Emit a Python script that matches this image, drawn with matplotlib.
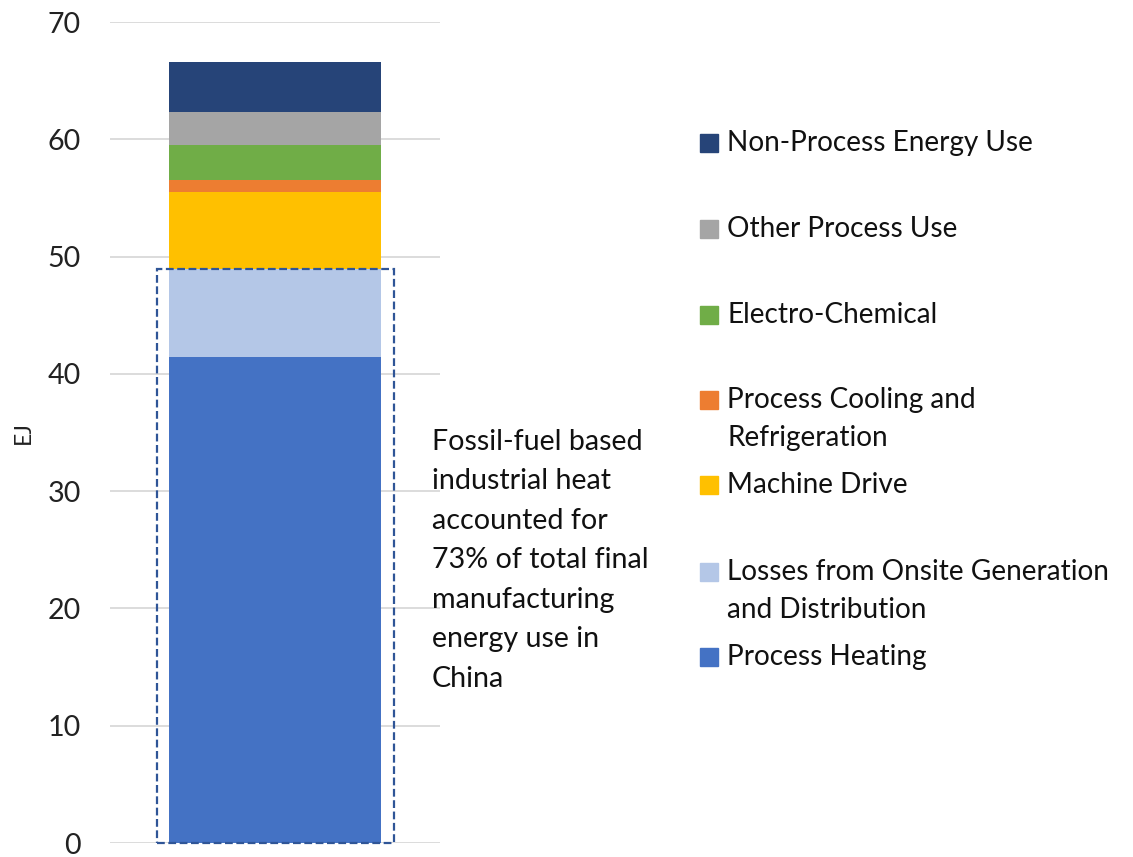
import matplotlib.pyplot as plt
from matplotlib.patches import Rectangle

plt.rcParams['font.family'] = ['Lato', 'DejaVu Sans']

# stacked segments, bottom to top (EJ)
categories = ['Process Heating', 'Losses from Onsite Generation\nand Distribution',
              'Machine Drive', 'Process Cooling and\nRefrigeration',
              'Electro-Chemical', 'Other Process Use', 'Non-Process Energy Use']
values = [41.4, 7.5, 6.6, 1.0, 3.0, 2.8, 4.3]
colors = ['#4472C4', '#B4C7E7', '#FFC000', '#ED7D31', '#70AD47', '#A5A5A5', '#264478']
yticks = [0, 10, 20, 30, 40, 50, 60, 70]
note = ('Fossil-fuel based\nindustrial heat\naccounted for\n73% of total final\n'
        'manufacturing\nenergy use in\nChina')

W, H = 1133, 857
FS = 20.6
fig = plt.figure(figsize=(W / 100, H / 100), dpi=100)
ax = fig.add_axes([110 / W, 14 / H, 330 / W, 821 / H])

bottom = 0
for v, c in zip(values, colors):
    ax.bar(0, v, width=0.64, bottom=bottom, color=c, zorder=2)
    bottom += v

# dashed box around the heat share (process heating + losses)
heat = values[0] + values[1]
ax.add_patch(Rectangle((-0.358, 0), 0.718, heat, fill=False, edgecolor='#2F5597',
                       linewidth=1.6, linestyle=(0, (3.5, 1.6)), zorder=3, clip_on=False))

ax.set_xlim(-0.5, 0.5)
ax.set_ylim(0, 70)
ax.set_yticks(yticks)
ax.set_xticks([])
ax.yaxis.grid(True, color='#D9D9D9', linewidth=1.3, zorder=0)
ax.set_axisbelow(True)
for s in ax.spines.values():
    s.set_visible(False)
ax.tick_params(axis='y', length=0, labelsize=FS, pad=21, labelcolor='#222222')
ax.set_ylabel('EJ', fontsize=16.5, color='#222222')
ax.yaxis.set_label_coords(-0.23, 0.5)

fig.text(432 / W, 1 - 429 / H, note, fontsize=FS, va='top', ha='left',
         linespacing=1.64, color='#111111')

# legend, drawn by hand to follow the uneven spacing of the original
leg_y = [657, 591, 485, 419, 315, 229, 143]
box_y = [657, 572, 485, 400, 315, 229, 143]
for lab, c, ty, by in zip(categories, colors, leg_y, box_y):
    fig.patches.append(Rectangle((700 / W, 1 - (by + 9) / H), 18 / W, 18 / H,
                                 transform=fig.transFigure, color=c))
    fig.text(727 / W, 1 - ty / H, lab, fontsize=FS - 0.4, va='center', ha='left',
             linespacing=1.58, color='#111111')

fig.savefig('out.png', dpi=100)
